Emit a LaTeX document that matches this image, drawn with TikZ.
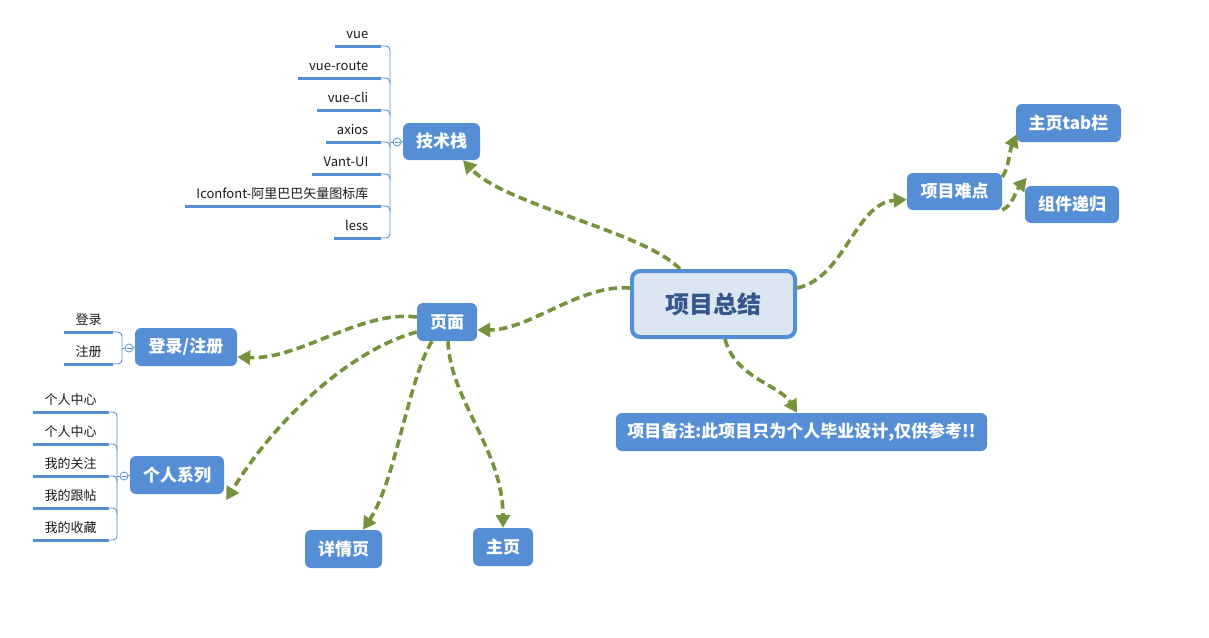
\documentclass[tikz,border=0pt]{standalone}
\usepackage{fontspec}
\setmainfont{Noto Sans CJK SC}
\usetikzlibrary{arrows.meta,calc}
\definecolor{nodeblue}{HTML}{558ED5}
\definecolor{centralfill}{HTML}{DCE6F2}
\definecolor{centraltext}{HTML}{34568B}
\definecolor{connolive}{HTML}{76923C}
\definecolor{leaftext}{HTML}{1A1A1A}
\begin{document}
\begin{tikzpicture}[x=1pt,y=-1pt,
  topic/.style={fill=nodeblue, rounded corners=6pt, text=white, font=\bfseries\fontsize{17}{20}\selectfont, inner sep=0pt, minimum height=38pt},
  conn/.style={draw=connolive, line width=3.6pt, dash pattern=on 8.5pt off 4.5pt, -{Triangle[length=13pt,width=14pt]}},
  leaf/.style={inner sep=0pt, font=\fontsize{13}{15}\selectfont, text=leaftext},
  uline/.style={draw=nodeblue, line width=3pt},
  bracket/.style={draw=nodeblue, line width=0.9pt, rounded corners=4pt},
  toggle/.style={circle, draw=nodeblue, fill=white, line width=0.8pt, minimum size=8pt, inner sep=0pt}
]
\useasboundingbox (0,0) rectangle (1209,637);

% central
\node[draw=nodeblue, line width=4pt, fill=centralfill, rounded corners=8pt,
  minimum width=163pt, minimum height=66pt, inner sep=0pt, text=centraltext,
  font=\bfseries\fontsize{24}{28}\selectfont] (central) at (713.5,304) {项目总结};

% topics
\node[topic, minimum width=77pt, minimum height=37pt] (tech) at (441.5,141.5) {技术栈};
\node[topic, minimum width=95pt, minimum height=37pt] (diff) at (954.5,191.5) {项目难点};
\node[topic, minimum width=105pt] (tab) at (1068.5,123) {主页tab栏};
\node[topic, minimum width=94pt, minimum height=37pt] (rec) at (1072,204.5) {组件递归};
\node[topic, minimum width=371pt] (note) at (801.5,432) {项目备注:此项目只为个人毕业设计,仅供参考!!};
\node[topic, minimum width=60pt] (page) at (447,322) {页面};
\node[topic, minimum width=102pt] (login) at (186,347) {登录/注册};
\node[topic, minimum width=94pt] (pers) at (177,475) {个人系列};
\node[topic, minimum width=77pt] (detail) at (343.5,549) {详情页};
\node[topic, minimum width=60pt] (home) at (503,547) {主页};

% tech stack leaves
\foreach \txt/\yy/\nm in {vue/46/ta,vue-route/78/tb,vue-cli/110/tc,axios/142/td,Vant-UI/174/te,Iconfont-阿里巴巴矢量图标库/206/tf,less/238/tg}{
  \node[leaf, anchor=base east] (\nm) at (368.5,\yy-8) {\txt};
  \draw[uline] ($(\nm.base west)+(-11,8)$) -- (381,\yy);
}
\draw[bracket] (381,46) -- (390,46) -- (390,238) -- (381,238);
\foreach \yy in {78,110,142,174,206}{\draw[bracket] (381,\yy) -- (390,\yy) -- (390,\yy+6);}
\node[toggle] (tg1) at (397,142) {};
\draw[nodeblue, line width=0.7pt] ($(tg1)+(-2.5,0)$) -- ($(tg1)+(2.5,0)$);
\draw[nodeblue, line width=0.9pt] (390,142) -- (tg1.west);
\draw[nodeblue, line width=0.9pt] (tg1.east) -- (tech.west);

% login leaves
\node[leaf, anchor=base] (la) at (88.5,324) {登录};
\node[leaf, anchor=base] (lb) at (88.5,356) {注册};
\draw[uline] (64,332) -- (113,332);
\draw[uline] (64,364) -- (113,364);
\draw[bracket] (113,332) -- (122,332) -- (122,364) -- (113,364);
\node[toggle] (tg2) at (129,348) {};
\draw[nodeblue, line width=0.7pt] ($(tg2)+(-2.5,0)$) -- ($(tg2)+(2.5,0)$);
\draw[nodeblue, line width=0.9pt] (122,348) -- (tg2.west);
\draw[nodeblue, line width=0.9pt] (tg2.east) -- (login.west);

% personal leaves
\foreach \txt/\yy/\nm in {个人中心/412/pa,个人中心/444/pb,我的关注/476/pc,我的跟帖/508/pd,我的收藏/540/pe}{
  \node[leaf, anchor=base] (\nm) at (70.5,\yy-8) {\txt};
  \draw[uline] (33,\yy) -- (108.5,\yy);
}
\draw[bracket] (108.5,412) -- (117,412) -- (117,540) -- (108.5,540);
\foreach \yy in {444,476,508}{\draw[bracket] (108.5,\yy) -- (117,\yy) -- (117,\yy+6);}
\node[toggle] (tg3) at (124,476) {};
\draw[nodeblue, line width=0.7pt] ($(tg3)+(-2.5,0)$) -- ($(tg3)+(2.5,0)$);
\draw[nodeblue, line width=0.9pt] (117,476) -- (tg3.west);
\draw[nodeblue, line width=0.9pt] (tg3.east) -- (pers.west);

% connectors
\draw[conn] ($(central.north)+(-33.5,0)$) .. controls (645,232) and (505,205) .. ($(tech.south)+(21.5,0)$);
\draw[conn] ($(central.west)+(0,-16)$) .. controls (580,284) and (530,330) .. ($(page.east)+(0,8)$);
\draw[conn] ($(central.east)+(0,-16)$) .. controls (845,278) and (855,203) .. ($(diff.west)+(0,8)$);
\draw[conn] ($(central.south)+(11.5,0)$) .. controls (735,378) and (780,385) .. ($(note.north)+(-4.5,0)$);
\draw[conn] ($(diff.east)+(0,-14.5)$) .. controls (1009,168) and (1009,152) .. ($(tab.south west)+(1,-8)$);
\draw[conn] ($(diff.east)+(0,18.5)$) .. controls (1013,205) and (1015,192) .. ($(rec.north west)+(2,-8)$);
\draw[conn] ($(page.west)+(0,-5)$) .. controls (360,310) and (300,360) .. ($(login.east)+(0,10)$);
\draw[conn] ($(page.west)+(0,10)$) .. controls (350,350) and (275,420) .. ($(pers.south east)+(2,6)$);
\draw[conn] ($(page.south)+(-15,0)$) .. controls (408,380) and (396,480) .. ($(detail.north)+(19.5,0)$);
\draw[conn] ($(page.south)+(1,0)$) .. controls (450,400) and (503,450) .. (home.north);
\end{tikzpicture}
\end{document}
